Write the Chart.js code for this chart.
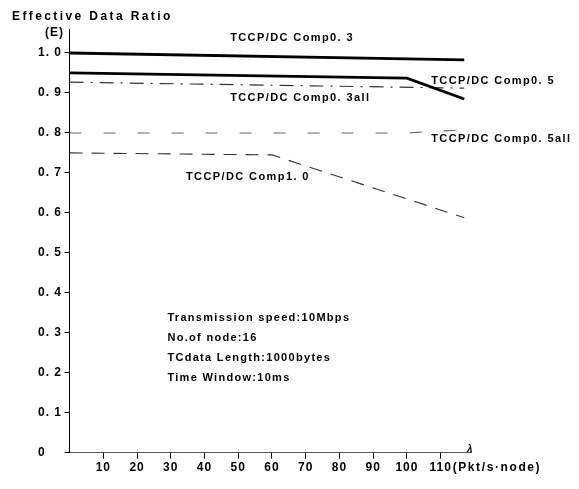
<!DOCTYPE html>
<html>
<head>
<meta charset="utf-8">
<script src="https://cdn.jsdelivr.net/npm/chart.js@4"></script>
<style>
  html, body { margin: 0; padding: 0; background: #fff; }
  #wrap { width: 579px; height: 489px; }
</style>
</head>
<body>
<div id="wrap"><canvas id="c" width="579" height="489"></canvas></div>
<script>
// tick values
const xTicks = [10, 20, 30, 40, 50, 60, 70, 80, 90, 100, 110];
const yTicks = [0, 0.1, 0.2, 0.3, 0.4, 0.5, 0.6, 0.7, 0.8, 0.9, 1.0];

// series (x = Pkt/s node, y = effective data ratio)
const comp03X = [0, 117];
const comp03Y = [1.0, 0.983];
const comp05X = [0, 100, 117];
const comp05Y = [0.95, 0.937, 0.885];
const comp03allX = [0, 117];
const comp03allY = [0.927, 0.912];
const comp05allX = [0, 100, 117];
const comp05allY = [0.80, 0.80, 0.808];
const comp10X = [0, 60, 117];
const comp10Y = [0.75, 0.745, 0.588];

const seriesNames = ['TCCP/DC Comp0. 3', 'TCCP/DC Comp0. 5', 'TCCP/DC Comp0. 3all', 'TCCP/DC Comp0. 5all', 'TCCP/DC Comp1. 0'];
const notes = ['Transmission speed:10Mbps', 'No.of node:16', 'TCdata Length:1000bytes', 'Time Window:10ms'];

const pts = (xs, ys) => xs.map((x, i) => ({ x: x, y: ys[i] }));
const FONT = '"Liberation Sans", Arial, sans-serif';

// where the series names sit (data units)
const nameSpots = [
  { x: 47.6, y: 1.038 },
  { x: 107.2, y: 0.93 },
  { x: 47.6, y: 0.887 },
  { x: 107.2, y: 0.785 },
  { x: 34.5, y: 0.689 }
];

const textPlugin = {
  id: 'texts',
  beforeDraw(chart) {
    chart.ctx.letterSpacing = '1px';
  },
  afterDraw(chart) {
    const ctx = chart.ctx;
    const xs = chart.scales.x, ys = chart.scales.y;
    ctx.save();
    ctx.fillStyle = '#000';
    ctx.textBaseline = 'middle';
    ctx.textAlign = 'left';

    ctx.font = 'bold 12px ' + FONT;
    ctx.letterSpacing = '2.4px';
    ctx.fillText('Effective Data Ratio', 12, 17);
    ctx.letterSpacing = '1px';
    ctx.fillText('(E)', 45, 33);

    ctx.font = 'bold 11px ' + FONT;
    ctx.letterSpacing = '1.4px';
    seriesNames.forEach((s, i) => {
      ctx.fillText(s, xs.getPixelForValue(nameSpots[i].x), ys.getPixelForValue(nameSpots[i].y));
    });

    ctx.letterSpacing = '1.3px';
    notes.forEach((s, i) => {
      ctx.fillText(s, xs.getPixelForValue(29), ys.getPixelForValue(0.337 - i * 0.05));
    });

    // unit after last tick, lambda at axis end
    ctx.font = 'bold 12px ' + FONT;
    ctx.letterSpacing = '1.6px';
    ctx.fillText('(Pkt/s·node)', xs.getPixelForValue(110) + 12, xs.bottom - 21);
    ctx.font = 'bold italic 10px ' + FONT;
    ctx.letterSpacing = '0px';
    ctx.fillText('λ', xs.right - 4, xs.top - 3);
    ctx.restore();
  }
};

new Chart(document.getElementById('c'), {
  type: 'line',
  data: {
    datasets: [
      { label: seriesNames[0], data: pts(comp03X, comp03Y), borderColor: '#000', borderWidth: 2.8 },
      { label: seriesNames[1], data: pts(comp05X, comp05Y), borderColor: '#000', borderWidth: 2.8 },
      { label: seriesNames[2], data: pts(comp03allX, comp03allY), borderColor: '#333', borderWidth: 1.2, borderDash: [14, 7, 2, 7] },
      { label: seriesNames[3], data: pts(comp05allX, comp05allY), borderColor: '#666', borderWidth: 1.1, borderDash: [12, 22] },
      { label: seriesNames[4], data: pts(comp10X, comp10Y), borderColor: '#333', borderWidth: 1.1, borderDash: [13, 9] }
    ]
  },
  options: {
    responsive: false,
    animation: false,
    devicePixelRatio: 1,
    layout: { padding: { left: 38, right: 108, top: 29, bottom: 0 } },
    elements: { point: { radius: 0 }, line: { tension: 0, fill: false } },
    plugins: { legend: { display: false }, tooltip: { enabled: false } },
    scales: {
      x: {
        type: 'linear',
        min: 0,
        max: 119,
        afterBuildTicks: ax => { ax.ticks = xTicks.map(v => ({ value: v })); },
        afterFit: ax => { ax.height = 36.3; },
        border: { display: true, color: '#555', width: 1, dash: [7, 4] },
        grid: { drawOnChartArea: false, drawTicks: true, tickLength: 6, color: '#000' },
        ticks: {
          color: '#000',
          padding: 2,
          maxRotation: 0,
          autoSkip: false,
          font: { family: FONT, size: 12, weight: 'bold' },
          callback: v => String(v)
        }
      },
      y: {
        type: 'linear',
        min: 0,
        max: 1.06,
        afterBuildTicks: ax => { ax.ticks = yTicks.map(v => ({ value: v })); },
        afterFit: ax => { ax.width = 31.6; },
        border: { display: true, color: '#000', width: 1 },
        grid: { drawOnChartArea: false, drawTicks: true, tickLength: 5, color: '#000' },
        ticks: {
          color: '#000',
          padding: 3,
          crossAlign: 'far',
          autoSkip: false,
          font: { family: FONT, size: 12, weight: 'bold' },
          callback: v => (v === 0 ? '0' : v.toFixed(1).replace('.', '. '))
        }
      }
    }
  },
  plugins: [textPlugin]
});
</script>
</body>
</html>
